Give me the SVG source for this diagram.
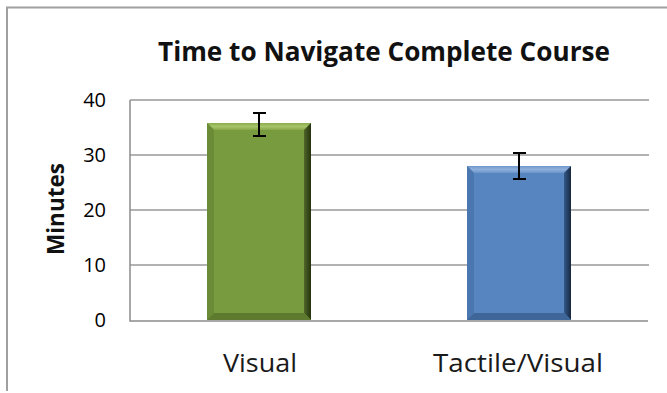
<svg xmlns="http://www.w3.org/2000/svg" width="667" height="393" viewBox="0 0 667 393">
<defs>
<style>
.frame{fill:none;stroke:#a0a0a0;stroke-width:2}
.grid{stroke:#999;stroke-width:1.5;fill:none}
.axis{stroke:#8c8c8c;stroke-width:1.5;fill:none}
.tick{font-family:"Open Sans","Liberation Sans",sans-serif;font-size:20px;fill:#000;text-anchor:end}
.cat{font-family:"Open Sans","Liberation Sans",sans-serif;font-size:25px;fill:#1a1a1a;text-anchor:middle}
.title{font-family:"Open Sans","Liberation Sans",sans-serif;font-size:26px;font-weight:bold;fill:#111;text-anchor:middle}
.ytitle{font-family:"Open Sans","Liberation Sans",sans-serif;font-size:24px;font-weight:bold;fill:#111;text-anchor:middle}
.err{stroke:#000;stroke-width:2;fill:none}
</style>
<linearGradient id="gR" x1="0" y1="0" x2="1" y2="0"><stop offset="0" stop-color="#4f6628"/><stop offset="1" stop-color="#26330f"/></linearGradient>
<linearGradient id="bR" x1="0" y1="0" x2="1" y2="0"><stop offset="0" stop-color="#34598a"/><stop offset="1" stop-color="#17283f"/></linearGradient>
<linearGradient id="gT" x1="0" y1="0" x2="0" y2="1"><stop offset="0" stop-color="#8aac4a"/><stop offset="0.5" stop-color="#a6c46a"/><stop offset="1" stop-color="#86a748"/></linearGradient>
<linearGradient id="bT" x1="0" y1="0" x2="0" y2="1"><stop offset="0" stop-color="#6f98cc"/><stop offset="0.5" stop-color="#8fb0dc"/><stop offset="1" stop-color="#6a94ca"/></linearGradient>
</defs>
<rect width="667" height="393" fill="#fff"/>
<path class="frame" d="M7,391 V7.5 H667"/>
<g id="title"><text class="title" x="384" y="61" textLength="452" lengthAdjust="spacingAndGlyphs">Time to Navigate Complete Course</text></g>
<g id="gridlines">
<path class="grid" d="M130,100 H649 M130,155 H649 M130,210 H649 M130,265 H649"/>
</g>
<g id="y-axis">
<path class="axis" d="M130,100 V321 H648"/>
<text class="tick" x="106" y="107">40</text>
<text class="tick" x="106" y="162">30</text>
<text class="tick" x="106" y="217">20</text>
<text class="tick" x="106" y="272">10</text>
<text class="tick" x="106" y="327">0</text>
<text class="ytitle" transform="translate(64,209) rotate(-90)" x="0" y="0" textLength="92" lengthAdjust="spacingAndGlyphs">Minutes</text>
</g>
<g id="bar-visual">
<rect x="207" y="123" width="104" height="197" fill="#799b3f"/>
<polygon points="207,123 311,123 304,130 214,130" fill="url(#gT)"/>
<polygon points="207,123 214,130 214,313 207,320" fill="#6c8b37"/>
<polygon points="311,123 311,320 304,313 304,130" fill="url(#gR)"/>
<polygon points="207,320 311,320 304,313 214,313" fill="#5d7a2f"/>
</g>
<g id="bar-tactile-visual">
<rect x="467" y="166" width="104" height="154" fill="#5685c0"/>
<polygon points="467,166 571,166 564,173 474,173" fill="url(#bT)"/>
<polygon points="467,166 474,173 474,313 467,320" fill="#4a77b0"/>
<polygon points="571,166 571,320 564,313 564,173" fill="url(#bR)"/>
<polygon points="467,320 571,320 564,313 474,313" fill="#3e6699"/>
</g>
<g id="error-bars">
<path class="err" d="M259,113 V136 M253,113 H266 M253,136 H266"/>
<path class="err" d="M519,153 V179 M513,153 H526 M513,179 H526"/>
</g>
<g id="categories">
<text class="cat" x="260" y="372" textLength="74" lengthAdjust="spacingAndGlyphs">Visual</text>
<text class="cat" x="518" y="372" textLength="170" lengthAdjust="spacingAndGlyphs">Tactile/Visual</text>
</g>
</svg>
